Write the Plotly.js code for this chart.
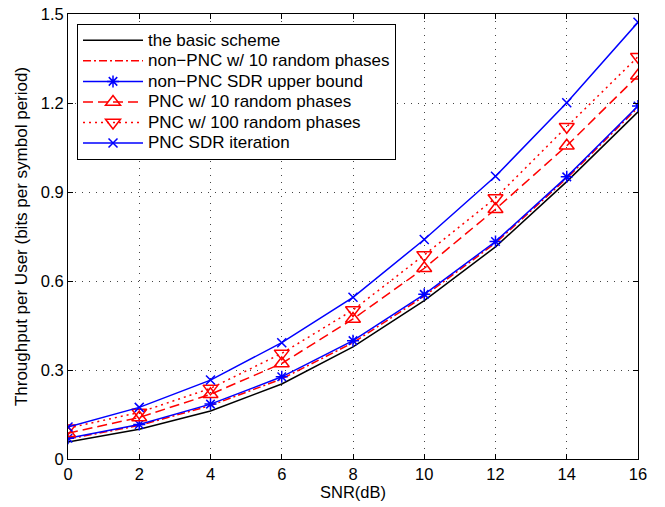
<!DOCTYPE html>
<html>
<head>
<meta charset="utf-8">
<script src="https://cdn.plot.ly/plotly-3.0.1.min.js"></script>
<style>
html,body{margin:0;padding:0;background:#fff;}
#chart{width:665px;height:507px;}
.legendtext{font-size:17px !important;}
</style>
</head>
<body>
<div id="chart"></div>
<script>
const snr = [0, 2, 4, 6, 8, 10, 12, 14, 16];
const basicScheme = [0.057, 0.100, 0.162, 0.253, 0.378, 0.534, 0.715, 0.935, 1.170];
const nonPncRandom10 = [0.067, 0.113, 0.180, 0.270, 0.392, 0.549, 0.728, 0.946, 1.185];
const nonPncSdr = [0.070, 0.116, 0.185, 0.277, 0.399, 0.555, 0.733, 0.951, 1.190];
const pncRandom10 = [0.087, 0.140, 0.218, 0.322, 0.472, 0.643, 0.842, 1.056, 1.292];
const pncRandom100 = [0.104, 0.157, 0.238, 0.356, 0.502, 0.688, 0.880, 1.120, 1.356];
const pncSdrIter = [0.108, 0.174, 0.266, 0.392, 0.545, 0.740, 0.953, 1.201, 1.472];
const xTicks = [0, 2, 4, 6, 8, 10, 12, 14, 16];
const yTicks = [0, 0.3, 0.6, 0.9, 1.2, 1.5];
const yTickText = ['0', '0.3', '0.6', '0.9', '1.2', '1.5'];

const red = '#ff0000', blue = '#0000ff';
const traces = [
  {x: snr, y: basicScheme, name: 'the basic scheme', mode: 'lines',
   line: {color: '#000000', width: 1.5}},
  {x: snr, y: nonPncRandom10, name: 'non\u2212PNC w/ 10 random phases', mode: 'lines',
   line: {color: red, width: 1.5, dash: '8px,3px,2px,3px'}},
  {x: snr, y: nonPncSdr, name: 'non\u2212PNC SDR upper bound', mode: 'lines+markers',
   line: {color: blue, width: 1.5}, marker: {symbol: 'asterisk-open', size: 10, color: blue, line: {color: blue, width: 1.5}}},
  {x: snr, y: pncRandom10, name: 'PNC w/ 10 random phases', mode: 'lines+markers',
   line: {color: red, width: 1.5, dash: '10px,5px'}, marker: {symbol: 'triangle-up-open', size: 13, color: red, line: {color: red, width: 1.5}}},
  {x: snr, y: pncRandom100, name: 'PNC w/ 100 random phases', mode: 'lines+markers',
   line: {color: red, width: 1.5, dash: '2px,4px'}, marker: {symbol: 'triangle-down-open', size: 13, color: red, line: {color: red, width: 1.5}}},
  {x: snr, y: pncSdrIter, name: 'PNC SDR iteration', mode: 'lines+markers',
   line: {color: blue, width: 1.5}, marker: {symbol: 'x-thin-open', size: 9, color: blue, line: {color: blue, width: 1.5}}}
];

const axisCommon = {
  showline: true, linecolor: '#000', linewidth: 1, mirror: 'ticks',
  ticks: 'inside', ticklen: 5, tickcolor: '#000',
  showgrid: true, gridcolor: '#444', griddash: '1px,6px', gridwidth: 1,
  zeroline: false, tickfont: {family: 'Liberation Sans, Arial, sans-serif', size: 16.5, color: '#000'}
};

const layout = {
  width: 665, height: 507,
  margin: {l: 68, r: 27, t: 14, b: 48},
  paper_bgcolor: '#fff', plot_bgcolor: '#fff',
  font: {family: 'Liberation Sans, Arial, sans-serif', color: '#000'},
  xaxis: Object.assign({}, axisCommon, {range: [0, 16], tickvals: xTicks, ticktext: xTicks.map(String),
    title: {text: 'SNR(dB)', font: {size: 16.5}, standoff: 2}}),
  yaxis: Object.assign({}, axisCommon, {range: [0, 1.5], tickvals: yTicks, ticktext: yTickText,
    title: {text: 'Throughput per User (bits per symbol period)', font: {size: 17}, standoff: 8}}),
  showlegend: true,
  legend: {x: 0.0158, y: 0.9775, xanchor: 'left', yanchor: 'top', bgcolor: '#fff',
    bordercolor: '#000', borderwidth: 1, font: {size: 13.5}, tracegroupgap: 0, itemwidth: 60},
};

Plotly.newPlot('chart', traces, layout, {displayModeBar: false, staticPlot: true});
</script>
</body>
</html>
